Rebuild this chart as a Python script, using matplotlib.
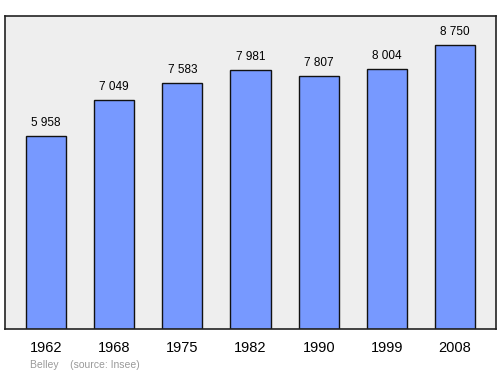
import matplotlib
matplotlib.use("Agg")
import matplotlib.pyplot as plt

plt.rcParams["font.family"] = ["Liberation Sans", "DejaVu Sans"]

years = ["1962", "1968", "1975", "1982", "1990", "1999", "2008"]
population = [5958, 7049, 7583, 7981, 7807, 8004, 8750]
value_labels = ["5 958", "7 049", "7 583", "7 981", "7 807", "8 004", "8 750"]

fig = plt.figure(figsize=(5, 3.74), dpi=100)
ax = fig.add_axes([0.01, 1 - 329 / 374, 0.982, (329 - 16) / 374])
ax.set_facecolor("#eeeeee")

x = range(len(years))
ax.bar(x, population, width=0.587, color="#7799ff", edgecolor="#111111", linewidth=1)

for i, v in enumerate(population):
    ax.annotate(value_labels[i], (i, v), xytext=(0, 5), textcoords="offset points",
                ha="center", va="bottom", fontsize=8.5)

ax.set_xlim(-0.6, 6.6)
ax.set_ylim(0, 9650)
ax.set_xticks(list(x))
ax.set_xticklabels(years, fontsize=10.5)
ax.tick_params(axis="x", length=0, pad=9)
ax.set_yticks([])
for s in ax.spines.values():
    s.set_linewidth(1.2)
    s.set_color("#222222")

fig.text(0.06, 1 - 365 / 374, "Belley    (source: Insee)", fontsize=7.5, color="#999999",
         va="center")

fig.savefig("out.png", dpi=100)
